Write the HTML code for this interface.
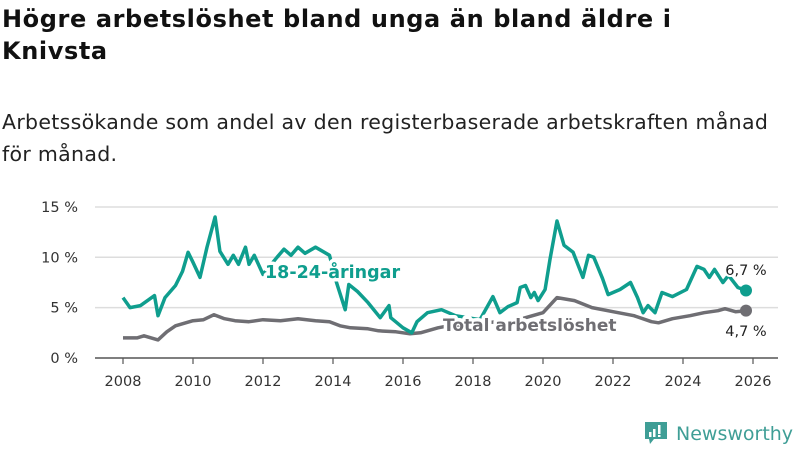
<!DOCTYPE html>
<html><head><meta charset="utf-8"><style>
body{margin:0;width:800px;height:450px;background:#fff;font-family:"DejaVu Sans","Liberation Sans",sans-serif;overflow:hidden;position:relative}
h1{position:absolute;left:2px;top:3px;margin:0;font-size:24px;letter-spacing:0.6px;line-height:32px;font-weight:bold;color:#111;width:798px;white-space:nowrap}
p.sub{position:absolute;left:2px;top:106px;margin:0;font-size:20.5px;letter-spacing:0.3px;line-height:32px;color:#222;width:798px;white-space:nowrap}
svg{position:absolute;left:0;top:0;font-family:"DejaVu Sans","Liberation Sans",sans-serif}
</style></head><body>
<h1>Högre arbetslöshet bland unga än bland äldre i<br>Knivsta</h1>
<p class="sub">Arbetssökande som andel av den registerbaserade arbetskraften månad<br>för månad.</p>
<svg width="800" height="450">
<g id="grid"></g><g id="lines"></g><g id="labels"></g>
<g>
<path d="M645 422 h22 v17 h-13 l-4 5 l-1 -5 h-4 z" fill="#3f9e96"/>
<rect x="649" y="432" width="2.5" height="5" fill="#fff"/><rect x="653" y="429" width="2.5" height="8" fill="#fff"/><rect x="658" y="425" width="2.5" height="9" fill="#fff"/><rect x="658" y="435" width="2.5" height="2" fill="#fff"/>
<text x="676" y="440" font-size="19" fill="#3f9e96">Newsworthy</text>
</g>
</svg>
<script>
const yTicks=[0,5,10,15];
const xTicks=[2008,2010,2012,2014,2016,2018,2020,2022,2024,2026];
const youngYears=[2008.0,2008.2,2008.5,2008.9,2009.0,2009.2,2009.5,2009.7,2009.86,2010.0,2010.2,2010.4,2010.63,2010.77,2011.0,2011.15,2011.3,2011.5,2011.6,2011.75,2012.0,2012.4,2012.6,2012.8,2013.0,2013.2,2013.5,2013.9,2014.1,2014.35,2014.45,2014.7,2015.0,2015.35,2015.6,2015.65,2016.0,2016.25,2016.4,2016.7,2017.1,2017.5,2018.2,2018.57,2018.77,2019.0,2019.26,2019.35,2019.5,2019.65,2019.75,2019.86,2020.06,2020.2,2020.4,2020.6,2020.86,2021.14,2021.3,2021.45,2021.7,2021.86,2022.2,2022.5,2022.7,2022.86,2023.0,2023.2,2023.4,2023.7,2024.1,2024.4,2024.6,2024.75,2024.9,2025.14,2025.3,2025.57,2025.8];
const youngVals=[6.0,5.0,5.2,6.2,4.2,6.0,7.2,8.6,10.5,9.5,8.0,11.0,14.0,10.6,9.3,10.2,9.3,11.0,9.3,10.2,8.3,10.0,10.8,10.2,11.0,10.4,11.0,10.2,7.5,4.8,7.3,6.6,5.5,4.0,5.2,4.0,3.0,2.5,3.6,4.5,4.8,4.2,3.8,6.1,4.5,5.1,5.5,7.0,7.2,6.0,6.5,5.7,6.8,9.8,13.6,11.2,10.5,8.0,10.2,10.0,7.9,6.3,6.8,7.5,6.0,4.5,5.2,4.5,6.5,6.1,6.8,9.1,8.8,8.0,8.8,7.5,8.2,7.0,6.7];
const totalYears=[2008.0,2008.4,2008.6,2009.0,2009.25,2009.5,2010.0,2010.3,2010.6,2010.9,2011.2,2011.6,2012.0,2012.5,2013.0,2013.5,2013.9,2014.2,2014.5,2015.0,2015.3,2015.8,2016.2,2016.5,2017.0,2017.3,2018.0,2018.7,2019.3,2020.0,2020.4,2020.9,2021.4,2022.0,2022.6,2023.1,2023.3,2023.7,2024.2,2024.6,2025.0,2025.2,2025.5,2025.8];
const totalVals=[2.0,2.0,2.2,1.8,2.6,3.2,3.7,3.8,4.3,3.9,3.7,3.6,3.8,3.7,3.9,3.7,3.6,3.2,3.0,2.9,2.7,2.6,2.4,2.5,3.0,3.2,3.4,3.6,3.8,4.5,6.0,5.7,5.0,4.6,4.2,3.6,3.5,3.9,4.2,4.5,4.7,4.9,4.6,4.7];
const ns="http://www.w3.org/2000/svg";
const X=y=>123+(y-2008)*35, Y=v=>358-v*10.07;
function mk(t,a,p){const e=document.createElementNS(ns,t);for(const k in a)e.setAttribute(k,a[k]);p.appendChild(e);return e;}
const grid=document.getElementById('grid'),lines=document.getElementById('lines'),labels=document.getElementById('labels');
yTicks.forEach(v=>{
 const l=mk('line',{x1:95,x2:778,y1:Y(v),y2:Y(v),stroke:v==0?'#555':'#ddd','stroke-width':1.5},grid);
 
 
 const t=mk('text',{x:78,y:Y(v)+5,'text-anchor':'end','font-size':14.5,fill:'#333'},grid);t.textContent=v+' %';
 
 
});
xTicks.forEach(yr=>{
 const tk=mk('line',{x1:X(yr),x2:X(yr),y1:358,y2:364,stroke:'#555','stroke-width':1.2},grid);
 
 
 const t=mk('text',{x:X(yr),y:386,'text-anchor':'middle','font-size':14.5,fill:'#333'},grid);t.textContent=yr;
 
 
});
function line(ys,vs,col,name){
 const d=ys.map((y,i)=>(i?'L':'M')+X(y).toFixed(1)+' '+Y(vs[i]).toFixed(1)).join(' ');
 const p=mk('path',{d:d,fill:'none',stroke:col,'stroke-width':3.5,'stroke-linejoin':'round'},lines);
 
 
 const n=ys.length-1;
 const c=mk('circle',{cx:X(ys[n]),cy:Y(vs[n]),r:6,fill:col},lines);
 
 
}
line(totalYears,totalVals,'#6f6e73','total');
line(youngYears,youngVals,'#0f9e8e','young');
function lab(x,y,txt,col,size,bold,name,anchor){
 const t=mk('text',{x:x,y:y,'font-size':size,'font-weight':bold?'bold':'normal',fill:col,stroke:'#fff','stroke-width':bold?7:4,'paint-order':'stroke','stroke-linejoin':'round','text-anchor':anchor||'start'},labels);
 t.textContent=txt;
 
 
}
lab(265,278,'18-24-åringar','#0f9e8e',17.5,true,'young-series-label');
lab(443,331,'Total arbetslöshet','#6f6e73',17,true,'total-series-label');
lab(746,275,'6,7 %','#222',14.5,false,'young-end-value','middle');
lab(746,336,'4,7 %','#222',14.5,false,'total-end-value','middle');
</script>
</body></html>
